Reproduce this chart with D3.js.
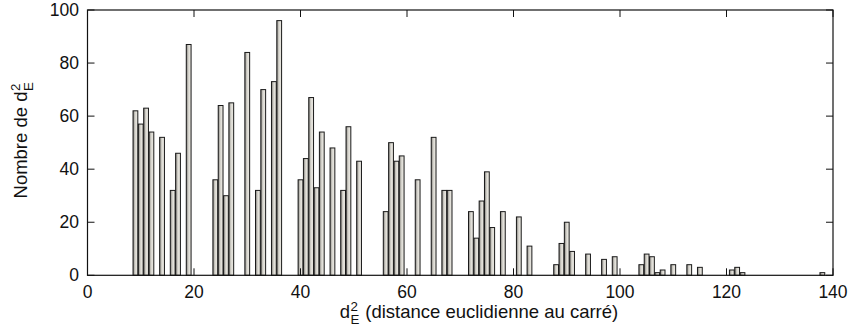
<html>
<head>
<script src="https://d3js.org/d3.v7.min.js"></script>
<style>
  body { margin: 0; background: #fff; font-family: 'Liberation Sans', Arial, sans-serif; }
  svg text { font-family: 'Liberation Sans', Arial, sans-serif; fill: #111; white-space: pre; }
</style>
</head>
<body>
<svg id="svg" width="850" height="331"></svg>
<script>
// d_E^2 values and how many times each one occurs
var dist = [9,10,11,12,14,16,17,19,24,25,26,27,30,32,33,35,36,40,41,42,43,44,46,48,49,51,
            56,57,58,59,62,65,67,68,72,73,74,75,76,78,81,83,88,89,90,91,94,97,99,
            104,105,106,107,108,110,113,115,121,122,123,138];
var count = [62,57,63,54,52,32,46,87,36,64,30,65,84,32,70,73,96,36,44,67,33,54,48,32,56,43,
             24,50,43,45,36,52,32,32,24,14,28,39,18,24,22,11,4,12,20,9,8,6,7,
             4,8,7,1,2,4,4,3,2,3,1,1];
var xTicks = [0,20,40,60,80,100,120,140];
var yTicks = [0,20,40,60,80,100];

var svg = d3.select("svg");
var pLeft = 87.5, pRight = 833, pTop = 10, pBottom = 275.3;
var fs = 17.5, fsLab = 18.5;

var x = d3.scaleLinear().domain([0,140]).range([pLeft,pRight]);
var y = d3.scaleLinear().domain([0,100]).range([pBottom,pTop]);

var grad = svg.append("defs").append("linearGradient").attr("id","barfill")
    .attr("x1","0").attr("x2","1").attr("y1","0").attr("y2","0");
grad.append("stop").attr("offset","0").attr("stop-color","#75736f");
grad.append("stop").attr("offset","0.35").attr("stop-color","#c8c6bf");
grad.append("stop").attr("offset","0.6").attr("stop-color","#e2e0d9");
grad.append("stop").attr("offset","1").attr("stop-color","#e6e4dd");

var bw = (x(1)-x(0))*0.9;
svg.selectAll("rect.bar").data(dist).enter().append("rect")
    .attr("class","bar")
    .attr("x",function(d){ return x(d)-bw/2; })
    .attr("y",function(d,i){ return y(count[i]); })
    .attr("width",bw)
    .attr("height",function(d,i){ return y(0)-y(count[i]); })
    .attr("fill","url(#barfill)")
    .attr("stroke","#1a1a1a")
    .attr("stroke-width",1);

// mirrored inward ticks on all four sides
var tl = 7;
var ax = svg.append("g").attr("stroke","#111").attr("stroke-width",1);
xTicks.forEach(function(t){
    ax.append("line").attr("x1",x(t)).attr("x2",x(t)).attr("y1",pBottom).attr("y2",pBottom-tl);
    ax.append("line").attr("x1",x(t)).attr("x2",x(t)).attr("y1",pTop).attr("y2",pTop+tl);
});
yTicks.forEach(function(t){
    ax.append("line").attr("x1",pLeft).attr("x2",pLeft+tl).attr("y1",y(t)).attr("y2",y(t));
    ax.append("line").attr("x1",pRight).attr("x2",pRight-tl).attr("y1",y(t)).attr("y2",y(t));
});
svg.append("rect").attr("x",pLeft).attr("y",pTop).attr("width",pRight-pLeft).attr("height",pBottom-pTop)
    .attr("fill","none").attr("stroke","#111").attr("stroke-width",1.2);

svg.selectAll("text.xt").data(xTicks).enter().append("text")
    .attr("class","xt").attr("x",function(d){ return x(d); }).attr("y",298)
    .attr("text-anchor","middle").attr("font-size",fs).text(function(d){ return d; });
svg.selectAll("text.yt").data(yTicks).enter().append("text")
    .attr("class","yt").attr("x",79).attr("y",function(d){ return y(d)+6; })
    .attr("text-anchor","end").attr("font-size",fs).text(function(d){ return d; });

// "d" with stacked superscript 2 and subscript E
function dE(g, before, after){
    var t = g.append("text").attr("font-size",fsLab).text(before + "d");
    var w = t.node().getComputedTextLength();
    g.append("text").attr("x",w+0.5).attr("y",-7.5).attr("font-size",fsLab*0.72).text("2");
    g.append("text").attr("x",w+0.5).attr("y",6).attr("font-size",fsLab*0.72).text("E");
    var s = g.append("text").attr("x",w+10).attr("font-size",fsLab).text(after);
    return w + 10 + (after ? s.node().getComputedTextLength() : 0);
}

var xl = svg.append("g");
var wx = dE(xl, "", " (distance euclidienne au carré)");
xl.attr("transform","translate(" + (479 - wx/2) + ",318)");

var yl = svg.append("g");
var wy = dE(yl, "Nombre de ", "");
yl.attr("transform","translate(27," + (140 + wy/2) + ") rotate(-90)");
</script>
</body>
</html>
